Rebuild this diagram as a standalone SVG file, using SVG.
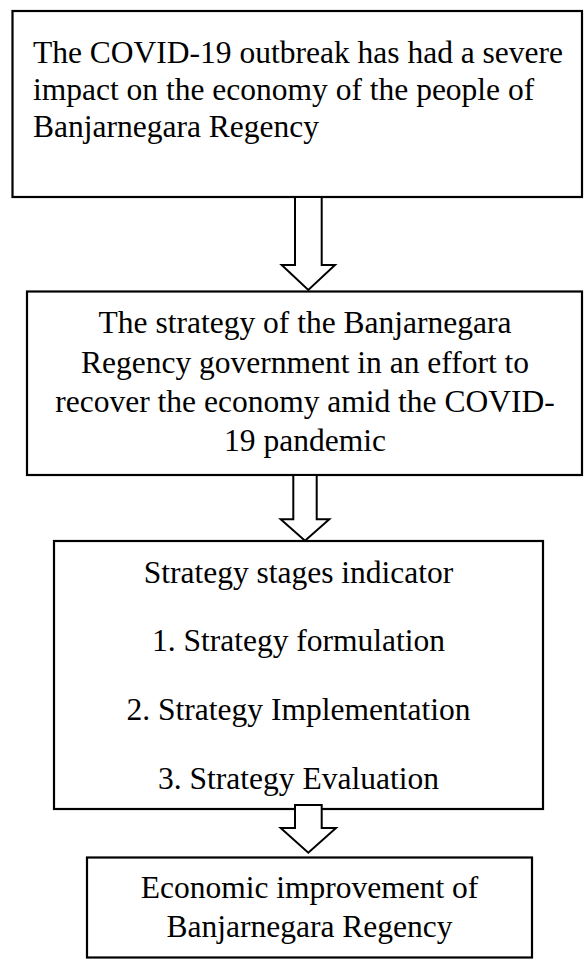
<svg xmlns="http://www.w3.org/2000/svg" width="585" height="960" viewBox="0 0 585 960">
<style>
.box{fill:#fff;stroke:#000;stroke-width:2.2}
.arr{fill:#fff;stroke:#000;stroke-width:2;stroke-linejoin:miter}
text{font-family:"Liberation Serif","Times New Roman",serif;font-size:31.5px;fill:#000}
.c{text-anchor:middle}
</style>
<rect width="585" height="960" fill="#fff"/>
<g id="n1">
<rect class="box" x="12.5" y="11" width="569.5" height="186"/>
<text x="33" y="63">The COVID-19 outbreak has had a severe</text>
<text x="33" y="100">impact on the economy of the people of</text>
<text x="33" y="137">Banjarnegara Regency</text>
</g>
<g id="n2">
<rect class="box" x="27" y="291.5" width="555" height="183.5"/>
<text class="c" x="305" y="333">The strategy of the Banjarnegara</text>
<text class="c" x="305" y="372.5">Regency government in an effort to</text>
<text class="c" x="305" y="411.5">recover the economy amid the COVID-</text>
<text class="c" x="305" y="450.5">19 pandemic</text>
</g>
<g id="n3">
<rect class="box" x="54" y="541" width="489" height="268"/>
<text class="c" x="298.5" y="582.5">Strategy stages indicator</text>
<text class="c" x="298.5" y="650.5">1. Strategy formulation</text>
<text class="c" x="298.5" y="720">2. Strategy Implementation</text>
<text class="c" x="298.5" y="789">3. Strategy Evaluation</text>
</g>
<g id="n4">
<rect class="box" x="87" y="857.5" width="445" height="100"/>
<text class="c" x="309.5" y="898">Economic improvement of</text>
<text class="c" x="309.5" y="937">Banjarnegara Regency</text>
</g>
<g id="connectors">
<polygon class="arr" points="295,197 321.7,197 321.7,265 335,265 308.3,290 281.7,265 295,265"/>
<polygon class="arr" points="293.3,475 316.7,475 316.7,519.3 329.3,519.3 305,540.7 280.7,519.3 293.3,519.3"/>
<polygon class="arr" points="295,805 321.7,805 321.7,828 336,828 308.3,852.7 280.7,828 295,828"/>
</g>
</svg>
